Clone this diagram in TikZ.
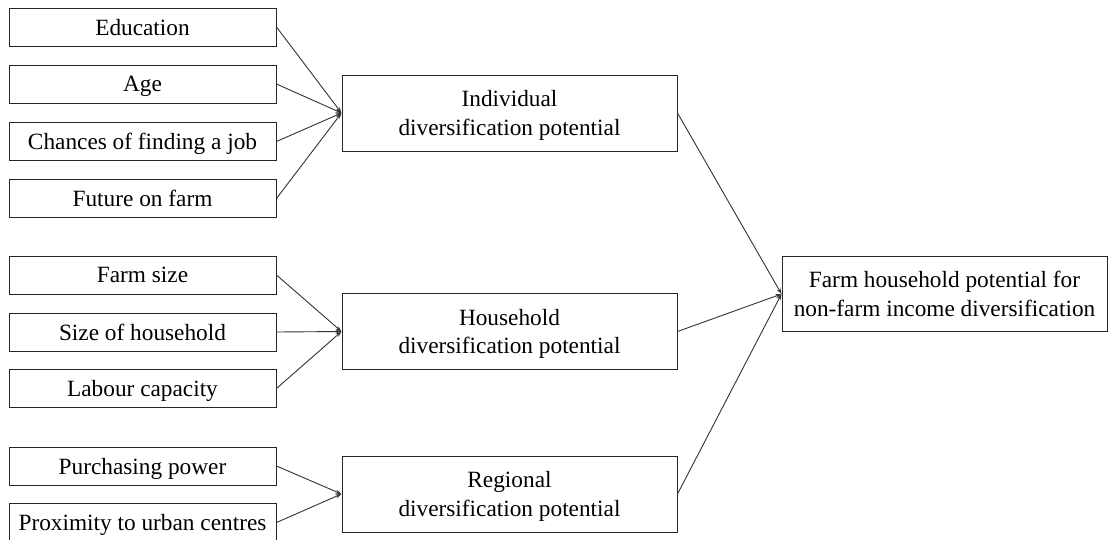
\documentclass[tikz,border=0pt]{standalone}
\usepackage{fontspec}
\setmainfont{Liberation Serif}
\usetikzlibrary{arrows.meta}
\begin{document}
\begin{tikzpicture}[x=1pt,y=-1pt,
  box/.style={draw=black!85, line width=1pt, inner sep=0pt, align=center, text depth=0pt,
    font=\fontsize{23.3}{28.5}\selectfont},
  leftbox/.style={box, minimum width=267pt, minimum height=38pt},
  midbox/.style={box, minimum width=335pt, minimum height=76pt},
  link/.style={draw=black!80, line width=0.9pt, -{Stealth[length=6pt,width=4pt]}}]
\clip (0,0) rectangle (1108,539);
\useasboundingbox (0,0) rectangle (1108,539);
% left boxes
\node[leftbox] (edu) at (142.5,27) {Education};
\node[leftbox] (age) at (142.5,84) {Age};
\node[leftbox] (job) at (142.5,141.5) {Chances of finding a job};
\node[leftbox] (fut) at (142.5,198.5) {Future on farm};
\node[leftbox] (fsz) at (142.5,275) {Farm size};
\node[leftbox] (hsz) at (142.5,332) {Size of household};
\node[leftbox] (lab) at (142.5,388.5) {Labour capacity};
\node[leftbox] (pur) at (142.5,466) {Purchasing power};
\node[leftbox] (urb) at (142.5,522.5) {Proximity to urban centres};
% middle boxes
\node[midbox] (ind) at (509.5,113) {Individual\\diversification potential};
\node[midbox] (hh) at (509.5,331.5) {Household\\diversification potential};
\node[midbox] (reg) at (509.5,494) {Regional\\diversification potential};
% right box
\node[box, minimum width=325pt, minimum height=75pt] (farm) at (944.5,294) {Farm household potential for\\non-farm income diversification};
% connectors
\foreach \s in {edu,age,job,fut} \draw[link] (\s.east) -- (ind.west);
\foreach \s in {fsz,hsz,lab} \draw[link] (\s.east) -- (hh.west);
\foreach \s in {pur,urb} \draw[link] (\s.east) -- (reg.west);
\foreach \s in {ind,hh,reg} \draw[link] (\s.east) -- (farm.west);
\end{tikzpicture}
\end{document}
